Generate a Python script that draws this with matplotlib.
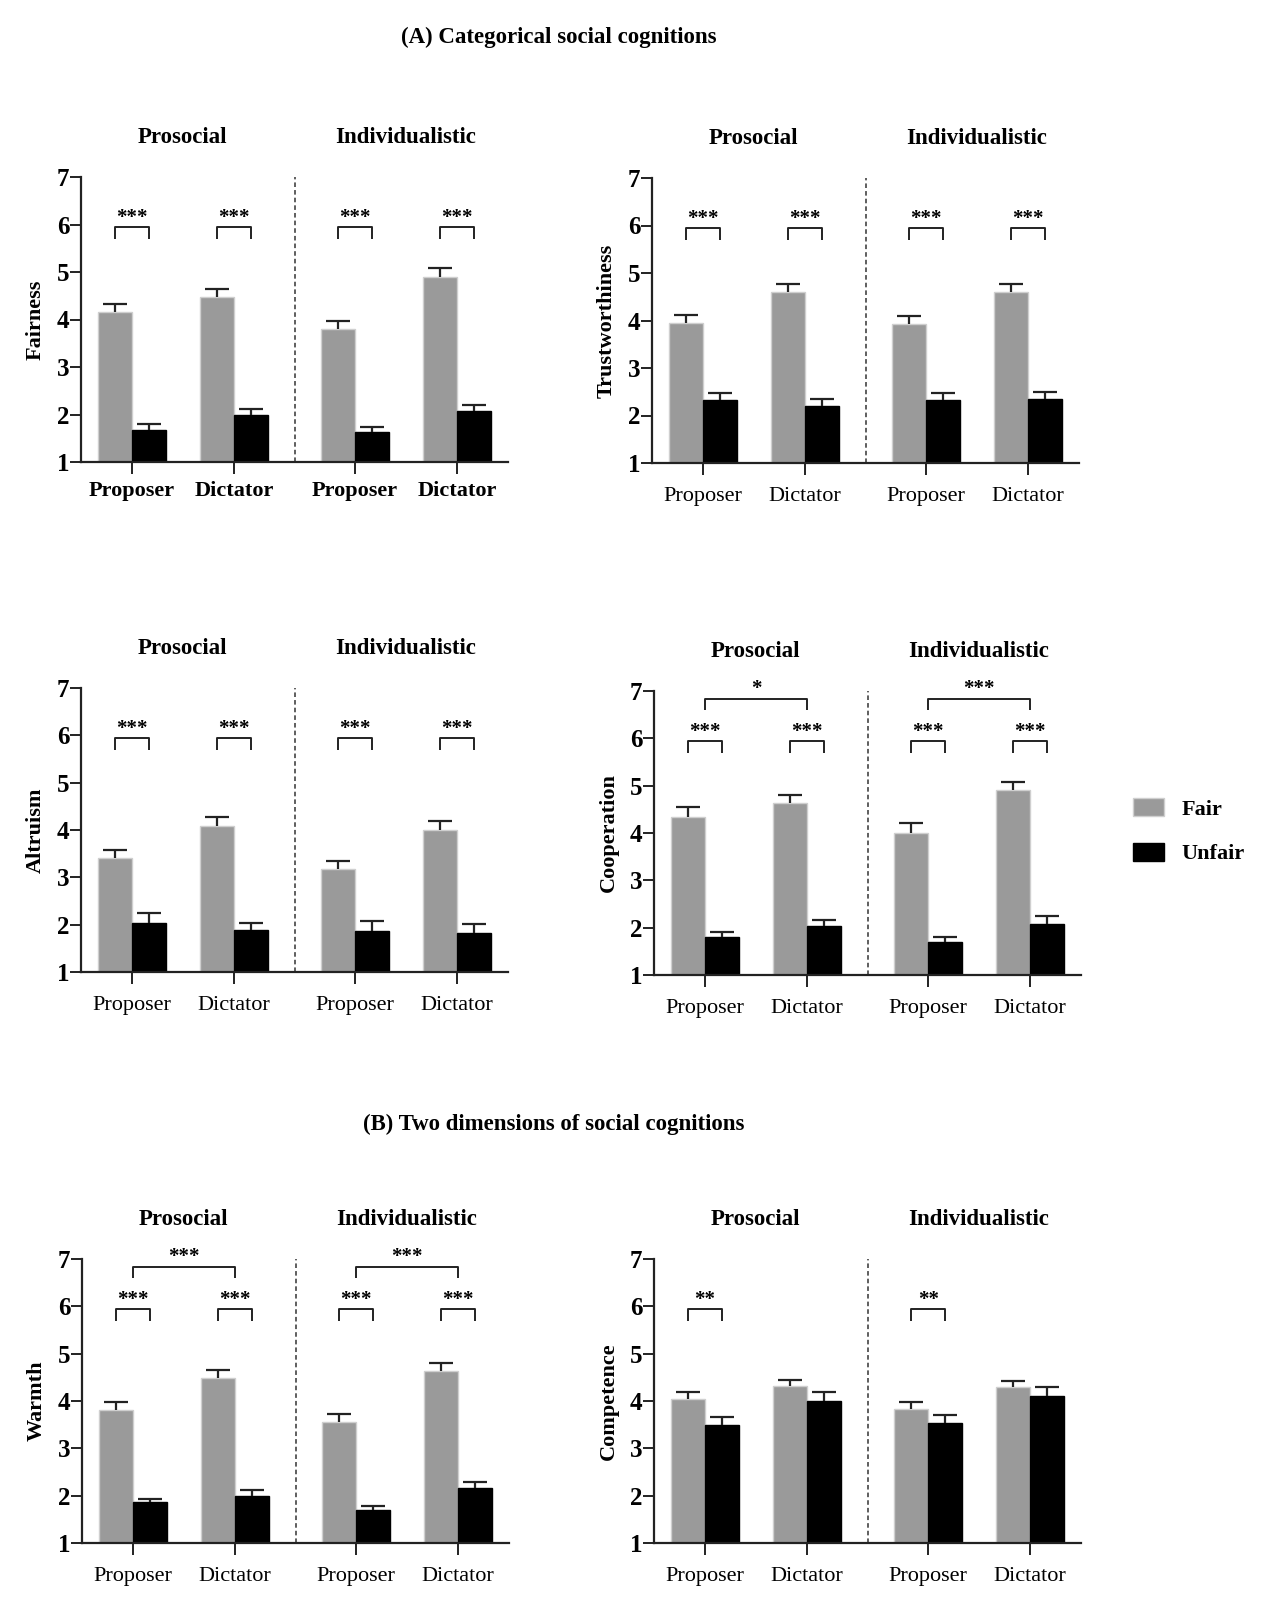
import matplotlib
matplotlib.use("Agg")
import matplotlib.pyplot as plt
import numpy as np
from matplotlib.transforms import blended_transform_factory

plt.rcParams["font.family"] = ["Liberation Serif", "DejaVu Serif"]

W, H = 1269, 1609

# order of every list: prosocial-proposer, prosocial-dictator, individualistic-proposer, individualistic-dictator
roles = ["Proposer", "Dictator", "Proposer", "Dictator"]
orientations = ["Prosocial", "Individualistic"]
conditions = ["Fair", "Unfair"]

fairness_fair = [4.16, 4.47, 3.79, 4.90]
fairness_fair_se = [0.17, 0.17, 0.17, 0.18]
fairness_unfair = [1.68, 2.00, 1.64, 2.08]
fairness_unfair_se = [0.11, 0.12, 0.10, 0.13]

trust_fair = [3.94, 4.59, 3.92, 4.61]
trust_fair_se = [0.18, 0.17, 0.17, 0.15]
trust_unfair = [2.32, 2.21, 2.32, 2.34]
trust_unfair_se = [0.16, 0.14, 0.16, 0.15]

altruism_fair = [3.40, 4.09, 3.17, 4.01]
altruism_fair_se = [0.18, 0.18, 0.18, 0.18]
altruism_unfair = [2.04, 1.88, 1.86, 1.82]
altruism_unfair_se = [0.21, 0.16, 0.21, 0.19]

coop_fair = [4.34, 4.63, 4.01, 4.90]
coop_fair_se = [0.21, 0.18, 0.20, 0.17]
coop_unfair = [1.80, 2.03, 1.70, 2.08]
coop_unfair_se = [0.11, 0.13, 0.11, 0.17]

warmth_fair = [3.80, 4.48, 3.56, 4.63]
warmth_fair_se = [0.17, 0.18, 0.17, 0.18]
warmth_unfair = [1.86, 1.99, 1.69, 2.16]
warmth_unfair_se = [0.08, 0.12, 0.09, 0.13]

comp_fair = [4.05, 4.31, 3.83, 4.30]
comp_fair_se = [0.14, 0.14, 0.15, 0.13]
comp_unfair = [3.50, 3.99, 3.53, 4.11]
comp_unfair_se = [0.17, 0.19, 0.18, 0.19]

# fair vs unfair stars per role, and proposer vs dictator stars per orientation
all_three = ["***", "***", "***", "***"]
comp_pair_sig = ["**", "", "**", ""]
no_role_sig = ["", ""]
coop_role_sig = ["*", "***"]
warmth_role_sig = ["***", "***"]

FAIR_COLOR = "#9a9a9a"
X = np.array([0, 1, 2.19, 3.19])
BW = 0.333


def bracket(ax, x0, x1, top, leg, label, star_y):
    ax.plot([x0, x0, x1, x1], [leg, top, top, leg], color="#222222", lw=1.4,
            clip_on=False, solid_capstyle="butt")
    ax.text((x0 + x1) / 2, star_y, label, ha="center", va="center",
            fontsize=15, fontweight="bold", clip_on=False)


def draw_panel(rect, ylabel, fair, fair_se, unfair, unfair_se, pair_sig, role_sig, bold_ticks):
    left, top, right, bottom = rect
    ax = fig.add_axes([left / W, 1 - bottom / H, (right - left) / W, (bottom - top) / H])

    fair = np.array(fair)
    unfair = np.array(unfair)
    b1 = ax.bar(X - BW / 2, fair, BW, color=FAIR_COLOR, edgecolor="#cfcfcf",
                lw=1, label=conditions[0], zorder=2)
    b2 = ax.bar(X + BW / 2, unfair, BW, color="black", edgecolor="black", lw=1,
                label=conditions[1], zorder=2)

    for xs, m, se in [(X - BW / 2, fair, np.array(fair_se)), (X + BW / 2, unfair, np.array(unfair_se))]:
        ax.vlines(xs, m, m + se, color="#222222", lw=1.6, zorder=3)
        ax.hlines(m + se, xs - 0.12, xs + 0.12, color="#222222", lw=1.6, zorder=3)

    ax.set_ylim(1, 7)
    ax.set_xlim(X[0] - 0.5, X[-1] + 0.5)
    ax.set_yticks(range(1, 8))
    ax.set_yticklabels([str(v) for v in range(1, 8)], fontweight="bold", fontsize=18)
    ax.set_xticks(X)
    if bold_ticks:
        ax.set_xticklabels(roles, fontweight="bold", fontsize=16)
        ax.tick_params(axis="x", pad=5)
    else:
        ax.set_xticklabels(roles, fontsize=16)
        ax.tick_params(axis="x", pad=9)
    ax.tick_params(axis="x", length=8.5, width=1.4, color="#222222")
    ax.tick_params(axis="y", length=8, width=1.4, pad=0.5, color="#222222")

    for s in ["top", "right"]:
        ax.spines[s].set_visible(False)
    for s in ["left", "bottom"]:
        ax.spines[s].set_linewidth(1.6)
        ax.spines[s].set_color("#222222")

    ax.axvline((X[1] + X[2]) / 2, color="#333333", lw=1.1, ls=(0, (3, 2)))

    ax.set_ylabel(ylabel, fontsize=16, fontweight="bold")
    ax.yaxis.set_label_coords(-0.082, 0.5)

    trans = blended_transform_factory(ax.transData, ax.transAxes)
    for i, name in enumerate(orientations):
        ax.text((X[2 * i] + X[2 * i + 1]) / 2, 1.14, name, transform=trans,
                ha="center", va="center", fontsize=16.5, fontweight="bold")

    for i, sig in enumerate(pair_sig):
        if sig:
            bracket(ax, X[i] - BW / 2, X[i] + BW / 2, 5.94, 5.70, sig, 6.14)
    for i, sig in enumerate(role_sig):
        if sig:
            bracket(ax, X[2 * i], X[2 * i + 1], 6.84, 6.60, sig, 7.04)
    return ax, b1, b2


fig = plt.figure(figsize=(W / 100, H / 100), dpi=100)

draw_panel((81, 177, 508, 462), "Fairness", fairness_fair, fairness_fair_se,
           fairness_unfair, fairness_unfair_se, all_three, no_role_sig, True)
draw_panel((652, 178, 1079, 463), "Trustworthiness", trust_fair, trust_fair_se,
           trust_unfair, trust_unfair_se, all_three, no_role_sig, False)
draw_panel((81, 688, 508, 972), "Altruism", altruism_fair, altruism_fair_se,
           altruism_unfair, altruism_unfair_se, all_three, no_role_sig, False)
ax4, h_fair, h_unfair = draw_panel((654, 691, 1081, 975), "Cooperation", coop_fair, coop_fair_se,
                                   coop_unfair, coop_unfair_se, all_three, coop_role_sig, False)
draw_panel((82, 1259, 509, 1543), "Warmth", warmth_fair, warmth_fair_se,
           warmth_unfair, warmth_unfair_se, all_three, warmth_role_sig, False)
draw_panel((654, 1259, 1081, 1543), "Competence", comp_fair, comp_fair_se,
           comp_unfair, comp_unfair_se, comp_pair_sig, no_role_sig, False)

fig.legend([h_fair, h_unfair], conditions, loc="upper left",
           bbox_to_anchor=(1133 / W, 1 - 798 / H), frameon=False,
           prop={"weight": "bold", "size": 16}, handlelength=1.4, handleheight=0.85,
           handletextpad=0.8, labelspacing=1.05, borderpad=0, borderaxespad=0)

fig.text(559 / W, 1 - 37 / H, "(A) Categorical social cognitions", ha="center", va="center",
         fontsize=16.5, fontweight="bold")
fig.text(554 / W, 1 - 1124 / H, "(B) Two dimensions of social cognitions", ha="center",
         va="center", fontsize=16.5, fontweight="bold")

fig.savefig("out.png", dpi=100)
